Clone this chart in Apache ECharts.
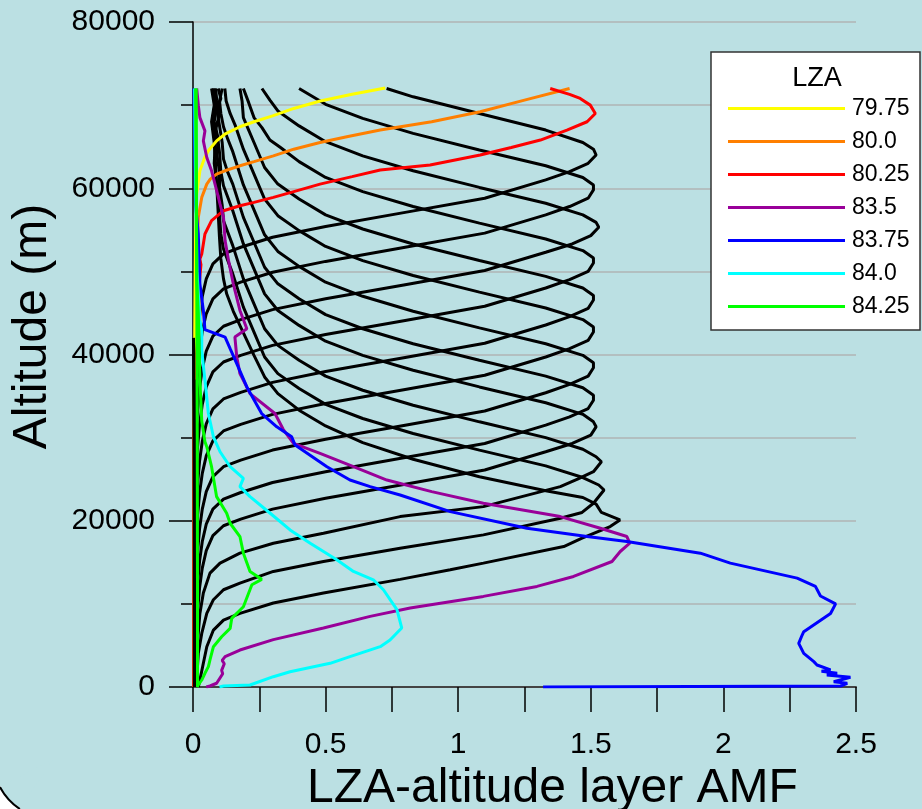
<!DOCTYPE html>
<html lang="en">
<head>
<meta charset="UTF-8" />
<title>LZA-altitude layer AMF</title>
<script src="https://cdn.jsdelivr.net/npm/echarts@6/dist/echarts.min.js"></script>
<style>
  body, html { margin: 0; padding: 0; width: 100%; height: 100%; overflow: hidden; background: #fff; }
  #chart { width: 922px; height: 809px; }
</style>
</head>
<body>
<div id="chart"></div>
<script>
  // legend entries (coloured curves)
  var lzaNames = ['79.75', '80.0', '80.25', '83.5', '83.75', '84.0', '84.25'];
  var lzaColors = ['#ffff00', '#ff7f00', '#ff0000', '#990099', '#0000ff', '#00ffff', '#00ff00'];

  // each curve: [AMF, altitude m] top to bottom
  var lza7975 = [[0.725,72060],[0.60,71300],[0.48,70500],[0.38,69600],[0.30,68700],[0.23,68000],[0.177,67400],[0.12,66500],[0.089,65700],[0.06,64600],[0.045,63750],[0.026,62100],[0.014,59300],[0.01,55000],[0.008,48000],[0.006,40000],[0.004,30000],[0.003,0]];
  var lza8000 = [[1.42,72000],[1.25,70600],[1.083,69200],[0.9,68000],[0.706,67000],[0.58,66200],[0.479,65500],[0.38,64700],[0.303,63900],[0.23,63200],[0.177,62700],[0.12,62100],[0.089,61700],[0.065,61100],[0.052,60500],[0.033,58900],[0.02,56500],[0.015,52000],[0.022,48000],[0.026,45000],[0.024,42500],[0.01,39000],[0.004,35000],[0.003,0]];
  var lza8025 = [[1.347,72000],[1.42,71300],[1.46,70800],[1.498,70000],[1.517,69000],[1.486,68000],[1.41,67000],[1.31,65800],[1.2,64900],[1.083,64000],[0.894,62800],[0.706,62200],[0.6,61400],[0.479,60500],[0.38,59600],[0.303,58900],[0.23,58300],[0.177,57900],[0.115,57300],[0.07,56100],[0.045,54500],[0.033,52100],[0.026,51500],[0.03,50800],[0.022,48000],[0.02,44000],[0.018,42000],[0.008,38000],[0.004,30000],[0.003,0]];
  var lza8050 = [[0.73,72000],[0.83,71000],[1.08,69000],[1.33,67000],[1.47,65500],[1.51,64700],[1.52,64000],[1.49,63000],[1.42,62000],[1.33,61000],[1.1,58800],[0.8,57100],[0.5,55400],[0.3,54100],[0.18,52900],[0.115,52100],[0.075,50900],[0.05,49100],[0.035,47000],[0.025,44700],[0.015,41000],[0.01,36000],[0.006,25000],[0.005,0]];
  var lza8075 = [[0.40,72000],[0.50,70100],[0.64,68400],[0.83,66600],[1.08,64600],[1.33,62700],[1.47,61300],[1.51,60400],[1.51,59800],[1.49,58800],[1.42,57800],[1.33,56800],[1.1,54600],[0.8,52900],[0.5,51200],[0.3,49900],[0.18,48700],[0.115,47900],[0.075,46700],[0.05,44900],[0.035,42800],[0.025,40500],[0.015,36800],[0.01,31800],[0.006,20000],[0.005,0]];
  var lza8100 = [[0.26,72000],[0.29,70600],[0.32,69300],[0.40,67500],[0.50,65600],[0.64,63900],[0.83,62100],[1.08,60100],[1.33,58200],[1.47,56800],[1.52,55900],[1.53,55300],[1.50,54300],[1.43,53300],[1.33,52300],[1.1,50100],[0.8,48400],[0.5,46700],[0.3,45400],[0.18,44200],[0.115,43400],[0.075,42200],[0.05,40400],[0.035,38300],[0.025,36000],[0.015,32300],[0.01,27300],[0.006,15000],[0.005,0]];
  var lza8125 = [[0.19,72000],[0.21,70300],[0.23,68500],[0.26,67300],[0.29,65800],[0.33,64900],[0.40,63200],[0.50,61300],[0.64,59600],[0.83,57800],[1.08,55800],[1.33,53900],[1.47,52500],[1.51,51600],[1.51,51000],[1.49,50000],[1.42,49000],[1.33,48000],[1.1,45800],[0.8,44100],[0.5,42400],[0.3,41100],[0.18,39900],[0.115,39100],[0.075,37900],[0.05,36100],[0.035,34000],[0.025,31700],[0.015,28000],[0.01,23000],[0.006,12000],[0.005,0]];
  var lza8150 = [[0.177,72000],[0.185,70500],[0.19,68500],[0.21,67000],[0.23,65500],[0.27,62500],[0.32,60500],[0.40,58700],[0.50,56800],[0.64,55100],[0.83,53300],[1.08,51300],[1.33,49400],[1.47,48000],[1.51,47100],[1.51,46550],[1.49,45550],[1.42,44550],[1.33,43550],[1.1,41350],[0.8,39650],[0.5,37950],[0.3,36650],[0.18,35450],[0.115,34650],[0.075,33450],[0.05,31650],[0.035,29550],[0.025,27250],[0.015,23550],[0.01,18550],[0.006,8000],[0.005,0]];
  var lza8175 = [[0.12,72000],[0.125,70500],[0.14,69000],[0.16,67500],[0.19,64700],[0.23,61700],[0.27,58700],[0.32,56700],[0.40,54900],[0.50,53000],[0.64,51300],[0.83,49500],[1.08,47500],[1.33,45600],[1.47,44200],[1.51,43300],[1.51,42700],[1.49,41700],[1.42,40700],[1.33,39700],[1.1,37500],[0.8,35800],[0.5,34100],[0.3,32800],[0.18,31600],[0.115,30800],[0.075,29600],[0.05,27800],[0.035,25700],[0.025,23400],[0.015,19700],[0.01,14700],[0.006,5000],[0.005,0]];
  var lza8200 = [[0.11,72000],[0.10,70500],[0.105,69000],[0.115,67400],[0.13,66000],[0.15,64400],[0.19,60400],[0.23,57400],[0.27,54400],[0.32,52400],[0.40,50600],[0.50,48700],[0.64,47000],[0.83,45200],[1.08,43200],[1.33,41300],[1.47,39900],[1.51,39000],[1.51,38400],[1.49,37400],[1.42,36400],[1.33,35400],[1.1,33200],[0.8,31500],[0.5,29800],[0.3,28500],[0.18,27300],[0.115,26500],[0.075,25300],[0.05,23500],[0.035,21400],[0.025,19100],[0.015,15400],[0.01,10400],[0.006,3000],[0.005,0]];
  var lza8225 = [[0.095,72000],[0.105,70800],[0.09,69500],[0.10,67500],[0.11,65500],[0.115,63500],[0.13,62000],[0.15,60500],[0.19,56500],[0.23,53500],[0.27,50500],[0.32,48500],[0.40,46700],[0.50,44800],[0.64,43100],[0.83,41300],[1.08,39300],[1.33,37400],[1.47,36000],[1.51,35100],[1.51,34500],[1.49,33500],[1.42,32500],[1.33,31500],[1.1,29300],[0.8,27600],[0.5,25900],[0.3,24600],[0.18,23400],[0.115,22600],[0.075,21400],[0.05,19600],[0.035,17500],[0.025,15200],[0.015,11500],[0.01,6500],[0.007,0]];
  var lza8250 = [[0.085,72000],[0.09,70500],[0.10,69000],[0.085,67000],[0.095,65500],[0.10,64300],[0.105,62000],[0.115,60300],[0.15,57300],[0.19,53300],[0.23,50300],[0.27,47300],[0.32,45300],[0.40,43500],[0.50,41600],[0.64,39900],[0.83,38100],[1.08,36100],[1.33,34200],[1.47,32800],[1.51,31900],[1.52,31300],[1.50,30300],[1.43,29300],[1.33,28300],[1.1,26100],[0.8,24400],[0.5,22700],[0.3,21400],[0.18,20200],[0.115,19400],[0.075,18200],[0.05,16400],[0.035,14300],[0.025,12000],[0.015,8300],[0.01,3300],[0.008,0]];
  var lza8275 = [[0.08,72000],[0.09,70000],[0.08,68000],[0.095,66000],[0.09,64000],[0.10,62000],[0.10,60100],[0.11,58000],[0.115,56100],[0.15,53100],[0.19,49100],[0.23,46100],[0.27,43100],[0.32,41100],[0.40,39300],[0.50,37400],[0.64,35700],[0.83,33900],[1.08,31900],[1.33,30000],[1.47,28600],[1.52,27700],[1.54,27100],[1.51,25900],[1.45,25000],[1.385,24100],[1.095,21700],[0.781,20500],[0.492,18500],[0.303,17300],[0.177,16100],[0.102,14900],[0.064,13700],[0.039,11300],[0.026,8850],[0.015,4500],[0.01,0]];
  var lza8300 = [[0.075,72000],[0.085,70500],[0.075,68500],[0.085,66000],[0.08,63000],[0.09,60500],[0.095,58500],[0.10,56700],[0.105,54500],[0.115,52700],[0.15,49700],[0.19,45700],[0.23,42700],[0.27,39700],[0.32,37700],[0.40,35900],[0.50,34000],[0.64,32300],[0.83,30500],[1.08,28500],[1.33,26600],[1.47,25200],[1.53,24300],[1.55,23700],[1.51,22100],[1.467,21000],[1.385,20300],[1.095,18300],[0.781,16700],[0.492,15100],[0.303,13900],[0.177,12500],[0.115,11700],[0.077,10500],[0.052,8850],[0.033,6450],[0.02,4050],[0.012,0]];
  var lza8325 = [[0.07,72000],[0.08,70000],[0.07,68000],[0.08,65500],[0.085,63000],[0.09,60000],[0.095,57000],[0.10,54000],[0.105,51500],[0.115,49100],[0.127,47300],[0.152,45200],[0.19,42600],[0.23,39900],[0.27,37300],[0.32,35300],[0.40,33300],[0.50,31400],[0.64,29400],[0.83,27400],[1.08,25300],[1.33,23600],[1.47,22800],[1.52,22000],[1.54,21000],[1.61,20100],[1.573,19300],[1.467,17900],[1.398,16900],[1.095,14900],[0.97,14100],[0.781,12950],[0.492,11300],[0.303,10100],[0.177,8850],[0.115,8050],[0.077,6850],[0.052,4850],[0.039,2850],[0.026,840],[0.02,0]];
  var lza8350 = [[0.014,72000],[0.02,70000],[0.026,68500],[0.045,66900],[0.039,65700],[0.052,63700],[0.07,62100],[0.083,60500],[0.102,58100],[0.115,56500],[0.121,53700],[0.134,51300],[0.152,48500],[0.177,45300],[0.203,43100],[0.158,42100],[0.165,39700],[0.177,37700],[0.19,36900],[0.215,35300],[0.309,32900],[0.34,31000],[0.379,29300],[0.479,28100],[0.605,26500],[0.731,24900],[0.9,23500],[1.095,22100],[1.385,20500],[1.536,19100],[1.636,18100],[1.647,17300],[1.611,16300],[1.58,15100],[1.435,13300],[1.297,12100],[1.095,10900],[0.819,9500],[0.668,8500],[0.492,7100],[0.303,5700],[0.177,4450],[0.121,3650],[0.11,3200],[0.118,2800],[0.108,2000],[0.112,1600],[0.1,1000],[0.089,450],[0.064,120],[0.05,0]];
  var lza8375 = [[0.004,72000],[0.006,65000],[0.01,58000],[0.02,54500],[0.026,48500],[0.039,45300],[0.045,43000],[0.121,42100],[0.14,40700],[0.165,38900],[0.203,36100],[0.259,32900],[0.316,31300],[0.372,30100],[0.385,29100],[0.505,26500],[0.592,24900],[0.668,24100],[0.781,23100],[0.97,21100],[1.259,19100],[1.486,18100],[1.636,17500],[1.913,16100],[2.026,14900],[2.278,13100],[2.347,12100],[2.366,10950],[2.423,10000],[2.404,8850],[2.303,6650],[2.297,6250],[2.284,5250],[2.303,4050],[2.341,3050],[2.353,2650],[2.404,2050],[2.37,1900],[2.429,1650],[2.39,1450],[2.479,1170],[2.416,640],[2.467,440],[2.442,120],[1.32,0]];
  var lza8400 = [[0.006,72000],[0.01,60000],[0.015,50000],[0.026,44100],[0.033,42900],[0.033,40500],[0.045,36900],[0.058,32900],[0.077,30100],[0.102,28300],[0.14,26500],[0.19,25100],[0.177,24100],[0.215,22900],[0.291,20900],[0.366,18900],[0.442,17300],[0.542,15300],[0.605,13900],[0.68,12900],[0.718,11700],[0.769,9300],[0.787,7100],[0.743,5650],[0.706,4850],[0.592,3650],[0.517,2850],[0.366,1840],[0.303,1240],[0.215,240],[0.115,120],[0.1,0]];
  var lza8425 = [[0.01,72000],[0.012,60000],[0.014,49000],[0.02,45000],[0.026,36900],[0.033,32000],[0.045,29500],[0.052,28900],[0.07,26500],[0.089,22900],[0.127,20900],[0.14,19700],[0.177,18100],[0.19,16100],[0.215,13900],[0.259,12950],[0.222,12300],[0.19,9650],[0.146,8250],[0.14,7050],[0.108,6050],[0.077,4850],[0.064,3250],[0.058,2450],[0.045,1650],[0.033,840],[0.02,240],[0.015,0]];
  // curves that stay at ~0 in the lower column (drawn over the coloured tails)
  var blackNear0a = [[0.002,42000],[0.004,30000],[0.005,15000],[0.005,0]];
  var blackNear0b = [[0.005,37000],[0.007,25000],[0.008,10000],[0.008,0]];
  var greenNear0 = [[0.012,72000],[0.014,50000],[0.016,30000],[0.017,10000],[0.017,0]];

  var bulgeCurves = [lza8050, lza8075, lza8100, lza8125, lza8150, lza8175,
    lza8200, lza8225, lza8250, lza8275, lza8300, lza8325];
  var colourCurves = [lza7975, lza8000, lza8025, lza8350, lza8375, lza8400, lza8425];

  var FONT = 'Liberation Sans, Arial, sans-serif';
  var LW = 3;

  function lineSeries(name, data, color, z) {
    return {
      name: name,
      type: 'line',
      data: data,
      symbol: 'none',
      showSymbol: false,
      silent: true,
      z: z,
      itemStyle: { color: color },
      lineStyle: { color: color, width: LW },
      animation: false
    };
  }

  var series = [];
  for (var i = 0; i < bulgeCurves.length; i++) {
    series.push(lineSeries('', bulgeCurves[i], '#000', 2));
  }
  for (var j = 0; j < colourCurves.length; j++) {
    series.push(lineSeries(lzaNames[j], colourCurves[j], lzaColors[j], 2));
  }
  series.push(lineSeries('', blackNear0a, '#000', 3));
  series.push(lineSeries('', blackNear0b, '#000', 3));
  series.push(lineSeries('', greenNear0, '#00ff00', 3));

  // rounded page corner at the bottom left (circle centre 53,759, radius 60)
  var cornerStart = 2.154, cornerEnd = 2.656;

  var myChart = echarts.init(document.getElementById('chart'), null, { renderer: 'canvas' });
  var option = {
    backgroundColor: '#bbe0e3',
    animation: false,
    textStyle: { fontFamily: FONT },
    grid: { left: 193, right: 66, top: 22, bottom: 122, containLabel: false, outerBoundsMode: 'none' },
    xAxis: {
      type: 'value',
      min: 0, max: 2.5, interval: 0.5,
      name: 'LZA-altitude layer AMF',
      nameLocation: 'middle',
      nameGap: 72,
      nameTextStyle: { fontSize: 48, color: '#000', fontFamily: FONT, padding: [0, 0, 0, 56] },
      axisLine: { show: true, lineStyle: { color: '#444', width: 2 } },
      axisTick: { show: true, length: 25, lineStyle: { color: '#000', width: 1.5 } },
      minorTick: { show: true, splitNumber: 2, length: 25, lineStyle: { color: '#000', width: 1.5 } },
      axisLabel: { fontSize: 30, color: '#000', margin: 43, fontFamily: FONT },
      splitLine: { show: false }
    },
    yAxis: {
      type: 'value',
      min: 0, max: 80000, interval: 20000,
      name: 'Altitude (m)',
      nameLocation: 'middle',
      nameGap: 136,
      nameTextStyle: { fontSize: 48, color: '#000', fontFamily: FONT, padding: [0, 0, 0, 56] },
      axisLine: { show: true, lineStyle: { color: '#000', width: 1.5 } },
      axisTick: { show: true, length: 24, lineStyle: { color: '#000', width: 1.5 } },
      minorTick: { show: true, splitNumber: 2, length: 12, lineStyle: { color: '#000', width: 1.5 } },
      axisLabel: {
        fontSize: 30, color: '#000', margin: 38, fontFamily: FONT,
        formatter: function (v) { return String(v); }
      },
      splitLine: { show: true, lineStyle: { color: '#b0b4b5', width: 1.5 } },
      minorSplitLine: { show: true, lineStyle: { color: '#b0b4b5', width: 1.5 } }
    },
    legend: {
      data: lzaNames,
      orient: 'vertical',
      left: 723,
      top: 92,
      itemWidth: 117,
      itemHeight: 3,
      itemGap: 10,
      icon: 'rect',
      selectedMode: false,
      textStyle: { fontSize: 23, color: '#000', fontFamily: FONT, padding: [0, 0, 0, 2] },
      z: 5
    },
    graphic: [
      {
        type: 'rect', z: 0,
        shape: { x: 0, y: 786, width: 21, height: 23 },
        style: { fill: '#ffffff' }
      },
      {
        type: 'sector', z: 1,
        shape: { cx: 53, cy: 759, r0: 0, r: 60, startAngle: cornerStart, endAngle: cornerEnd, clockwise: true },
        style: { fill: '#bbe0e3' }
      },
      {
        type: 'arc', z: 1,
        shape: { cx: 53, cy: 759, r: 60, startAngle: cornerStart, endAngle: cornerEnd, clockwise: true },
        style: { stroke: '#000', lineWidth: 2, fill: null }
      },
      {
        type: 'rect', z: 3,
        shape: { x: 711, y: 52, width: 209, height: 278 },
        style: { fill: '#ffffff', stroke: '#333', lineWidth: 1.5 }
      },
      {
        type: 'text', z: 4, x: 817, y: 79,
        style: { text: 'LZA', font: '27px ' + FONT, fill: '#000', align: 'center', verticalAlign: 'middle' }
      }
    ],
    series: series
  };
  myChart.setOption(option);
</script>
</body>
</html>
